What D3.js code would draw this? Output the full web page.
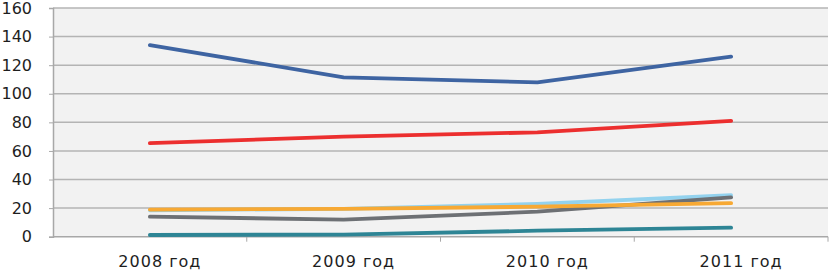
<!DOCTYPE html>
<html>
<head>
<meta charset="utf-8">
<script src="https://cdn.jsdelivr.net/npm/d3@7"></script>
<style>
  body { margin: 0; background: #fff; }
  svg { display: block; }
</style>
</head>
<body>
<svg width="829" height="271"></svg>
<script>
// ---- Dados
const years = ['2008 год', '2009 год', '2010 год', '2011 год'];
const yTicks = [0, 20, 40, 60, 80, 100, 120, 140, 160];

const seriesBlue = [134, 111.5, 108, 126];
const seriesRed = [65.5, 70, 73, 81];
const seriesLightBlue = [18.5, 19.5, 23, 29];
const seriesGray = [14, 12, 17.5, 27.5];
const seriesOrange = [19, 19.5, 21, 23.5];
const seriesTeal = [1.2, 1.5, 4.2, 6.3];

const series = [
  { values: seriesBlue, color: '#3e64a2' },
  { values: seriesRed, color: '#ec2f2f' },
  { values: seriesLightBlue, color: '#93d2ee' },
  { values: seriesGray, color: '#6d7074' },
  { values: seriesOrange, color: '#f7a934' },
  { values: seriesTeal, color: '#2e8595' }
];

const svg = d3.select('svg');
const margens = { left: 53, right: 1, top: 8, bottom: 34.3 };
const width = +svg.attr('width');
const height = +svg.attr('height');
const innerWidth = width - margens.left - margens.right;
const innerHeight = height - margens.top - margens.bottom;

const g = svg.append('g')
  .attr('transform', `translate(${margens.left}, ${margens.top})`);

// ---- Escalas
const x = d3.scaleBand()
  .domain(years)
  .range([0, innerWidth]);

const y = d3.scaleLinear()
  .domain([0, 160])
  .range([innerHeight, 0]);

// ---- Fundo da área de plotagem
g.append('rect')
  .attr('width', innerWidth)
  .attr('height', innerHeight)
  .attr('fill', '#f2f2f2');

// ---- Grade
g.selectAll('.grade')
  .data(yTicks.filter(d => d > 0))
  .enter()
  .append('line')
  .attr('class', 'grade')
  .attr('x1', 0)
  .attr('x2', innerWidth)
  .attr('y1', d => y(d))
  .attr('y2', d => y(d))
  .attr('stroke', '#b4b4b4')
  .attr('stroke-width', 1.5);

// ---- Eixos
const eixoY = d3.axisLeft(y)
  .tickValues(yTicks)
  .tickSize(4)
  .tickPadding(17);

g.append('g')
  .attr('class', 'eixo-y')
  .call(eixoY)
  .call(a => a.select('.domain').attr('stroke', '#a8a8a8').attr('stroke-width', 1.5))
  .call(a => a.selectAll('.tick line').attr('stroke', '#a8a8a8'))
  .call(a => a.selectAll('.tick text')
    .attr('fill', '#1e1e1e')
    .style('font-family', 'DejaVu Sans, Verdana, sans-serif')
    .style('font-size', '16px'));

const eixoX = g.append('g')
  .attr('class', 'eixo-x')
  .attr('transform', `translate(0, ${innerHeight})`);

eixoX.append('line')
  .attr('x1', 0)
  .attr('x2', innerWidth)
  .attr('stroke', '#a8a8a8')
  .attr('stroke-width', 1.5);

eixoX.selectAll('.tick-x')
  .data(years)
  .enter()
  .append('line')
  .attr('class', 'tick-x')
  .attr('x1', d => x(d) + x.bandwidth())
  .attr('x2', d => x(d) + x.bandwidth())
  .attr('y1', 0)
  .attr('y2', 5)
  .attr('stroke', '#a8a8a8');

eixoX.selectAll('.rotulo-x')
  .data(years)
  .enter()
  .append('text')
  .attr('class', 'rotulo-x')
  .attr('x', d => x(d) + x.bandwidth() / 2 + 10)
  .attr('y', 30)
  .attr('text-anchor', 'middle')
  .attr('fill', '#1e1e1e')
  .style('font-family', 'DejaVu Sans, Verdana, sans-serif')
  .style('font-size', '16px')
  .style('letter-spacing', '1px')
  .text(d => d);

// ---- Linhas
const linha = d3.line()
  .x((d, i) => x(years[i]) + x.bandwidth() / 2)
  .y(d => y(d));

g.selectAll('.serie')
  .data(series)
  .enter()
  .append('path')
  .attr('class', 'serie')
  .attr('d', d => linha(d.values))
  .attr('fill', 'none')
  .attr('stroke', d => d.color)
  .attr('stroke-width', 3.8)
  .attr('stroke-linecap', 'round')
  .attr('stroke-linejoin', 'round');
</script>
</body>
</html>
